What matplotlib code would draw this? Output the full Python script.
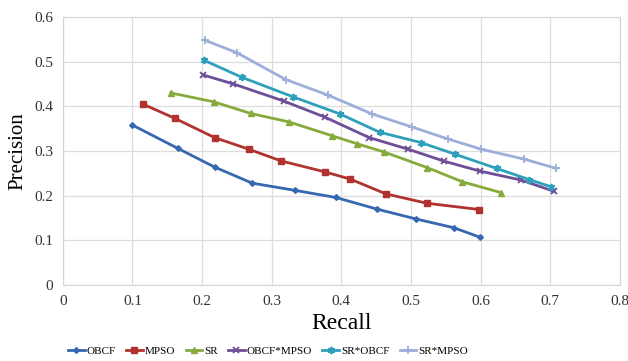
import matplotlib
matplotlib.use("Agg")
import matplotlib.pyplot as plt

# Recall / precision values
obcf_x = [0.100, 0.165, 0.218, 0.272, 0.333, 0.392, 0.451, 0.507, 0.562, 0.599]
obcf_y = [0.358, 0.306, 0.264, 0.228, 0.212, 0.196, 0.170, 0.148, 0.128, 0.107]

mpso_x = [0.115, 0.161, 0.218, 0.267, 0.313, 0.377, 0.413, 0.464, 0.523, 0.598]
mpso_y = [0.405, 0.373, 0.330, 0.304, 0.278, 0.253, 0.237, 0.204, 0.183, 0.169]

sr_x = [0.155, 0.217, 0.270, 0.325, 0.387, 0.423, 0.461, 0.523, 0.574, 0.629]
sr_y = [0.430, 0.410, 0.384, 0.365, 0.334, 0.316, 0.298, 0.263, 0.231, 0.207]

obcf_mpso_x = [0.202, 0.245, 0.317, 0.376, 0.440, 0.496, 0.548, 0.599, 0.658, 0.705]
obcf_mpso_y = [0.470, 0.450, 0.412, 0.376, 0.330, 0.304, 0.277, 0.255, 0.235, 0.210]

sr_obcf_x = [0.203, 0.257, 0.331, 0.398, 0.455, 0.514, 0.563, 0.623, 0.670, 0.701]
sr_obcf_y = [0.503, 0.465, 0.421, 0.383, 0.342, 0.319, 0.293, 0.261, 0.236, 0.220]

sr_mpso_x = [0.204, 0.250, 0.320, 0.381, 0.444, 0.501, 0.553, 0.601, 0.662, 0.709]
sr_mpso_y = [0.548, 0.520, 0.460, 0.425, 0.383, 0.354, 0.327, 0.304, 0.282, 0.261]

plt.rcParams["font.family"] = ["Liberation Serif", "DejaVu Serif"]

fig = plt.figure(figsize=(6.28, 3.61), dpi=100)
ax = fig.add_axes([0.100, 0.2105, 0.887, 0.7425])

# series: data, label, colour, marker, marker size
ax.plot(obcf_x, obcf_y, color="#3568B0", marker="D", markersize=4.5, lw=2, label="OBCF")
ax.plot(mpso_x, mpso_y, color="#B0332F", marker="s", markersize=7, lw=2, label="MPSO")
ax.plot(sr_x, sr_y, color="#86AB3C", marker="^", markersize=7, lw=2, label="SR")
ax.plot(obcf_mpso_x, obcf_mpso_y, color="#6E4E96", marker="x", markersize=7, mew=1.3, lw=2, label="OBCF*MPSO")
ax.plot(sr_obcf_x, sr_obcf_y, color="#2FA0BB", marker=(6, 2, 0), markersize=8, mew=1.3, lw=2, label="SR*OBCF")
ax.plot(sr_mpso_x, sr_mpso_y, color="#9DAEDB", marker="+", markersize=8, mew=1.3, lw=2, label="SR*MPSO")

ax.set_xlim(0, 0.8)
ax.set_ylim(0, 0.6)
ax.set_xticks([0, 0.1, 0.2, 0.3, 0.4, 0.5, 0.6, 0.7, 0.8])
ax.set_xticklabels(["0", "0.1", "0.2", "0.3", "0.4", "0.5", "0.6", "0.7", "0.8"])
ax.set_yticks([0, 0.1, 0.2, 0.3, 0.4, 0.5, 0.6])
ax.set_yticklabels(["0", "0.1", "0.2", "0.3", "0.4", "0.5", "0.6"])
ax.tick_params(length=0, labelsize=11, colors="#333333", pad=7)
ax.grid(True, color="#DDDDDD", lw=0.9)
ax.set_axisbelow(True)
for s in ax.spines.values():
    s.set_color("#D5D5D5")

ax.set_xlabel("Recall", fontsize=17, labelpad=4)
ax.set_ylabel("Precision", fontsize=15, labelpad=5)

handles, labels = ax.get_legend_handles_labels()
for h in handles:
    h.set_markersize(h.get_markersize() * 0.65)
fig.legend(handles, labels, loc="center", bbox_to_anchor=(0.427, 0.028), ncol=6, frameon=False,
           fontsize=8, handlelength=1.5, handletextpad=0.2, columnspacing=0.9,
           borderpad=0, borderaxespad=0)

fig.savefig("out.png", dpi=100)
